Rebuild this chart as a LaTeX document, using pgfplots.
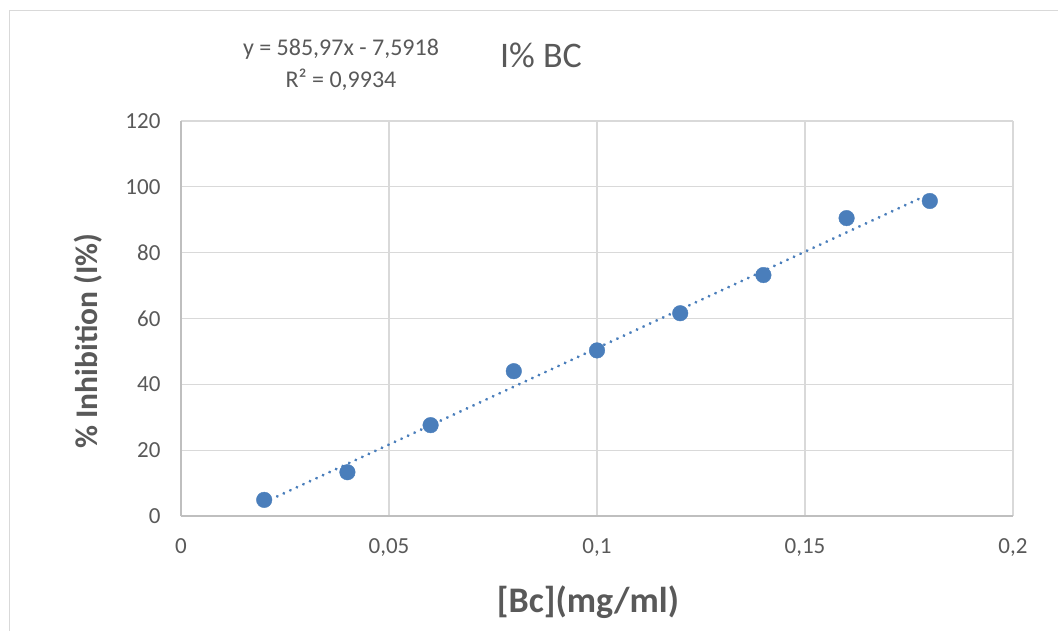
\documentclass[border=0pt]{standalone}
\usepackage{pgfplots}
\pgfplotsset{compat=1.18}
\usepackage{fontspec}
\setmainfont{Carlito}
\definecolor{ptblue}{HTML}{4A7EBB}
\definecolor{gridgray}{HTML}{D9D9D9}
\definecolor{axgray}{HTML}{BFBFBF}
\definecolor{txtgray}{HTML}{595959}
\begin{document}
\begin{tikzpicture}
\path[use as bounding box] (0pt,0pt) rectangle (1058pt,-630pt);
\draw[gridgray,line width=1pt] (9pt,-640pt) -- (9pt,-10pt) -- (1070pt,-10pt);
\begin{axis}[
  at={(181pt,-516pt)}, anchor=south west,
  scale only axis, width=832pt, height=395pt,
  xmin=0, xmax=0.2, ymin=0, ymax=120,
  xtick={0,0.05,0.1,0.15,0.2},
  xticklabels={0,{0,05},{0,1},{0,15},{0,2}},
  ytick={0,20,40,60,80,100,120},
  grid=major,
  major grid style={gridgray,line width=1.3pt},
  axis x line*=bottom, axis y line*=left,
  axis line style={axgray,line width=1.4pt,-},
  major tick length=0pt,
  tick label style={font=\fontsize{23}{26}\selectfont, text=txtgray},
  xticklabel style={yshift=-19pt},
  yticklabel style={xshift=-17pt},
  /pgf/number format/assume math mode=true,
  clip=false,
]
\addplot[ptblue, line width=3.2pt, dash pattern=on 0.01pt off 7.2pt, line cap=round] coordinates {(0.02,4.128) (0.18,97.883)};
\addplot[only marks, mark=*, mark size=7.8pt, mark options={fill=ptblue, draw=ptblue}] coordinates {
(0.02,4.9) (0.04,13.3) (0.06,27.6) (0.08,44.0) (0.10,50.3) (0.12,61.6) (0.14,73.2) (0.16,90.5) (0.18,95.7)};
\end{axis}
\node[font=\fontsize{36}{40}\selectfont\bfseries, text=txtgray] at (588pt,-602pt) {[Bc](mg/ml)};
\node[font=\fontsize{31.5}{36}\selectfont\bfseries, text=txtgray, rotate=90] at (88pt,-341pt) {\% Inhibition (I\%)};
\node[font=\fontsize{36}{40}\selectfont, text=txtgray] at (541pt,-55pt) {I\% BC};
\node[font=\fontsize{24}{28}\selectfont, text=txtgray] at (341pt,-49pt) {y = 585,97x - 7,5918};
\node[font=\fontsize{24}{28}\selectfont, text=txtgray] at (341pt,-80pt) {R² = 0,9934};
\end{tikzpicture}
\end{document}
